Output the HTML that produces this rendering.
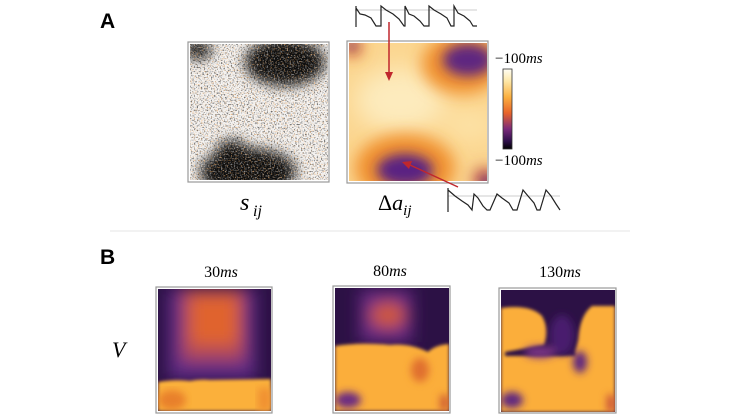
<!DOCTYPE html>
<html><head><meta charset="utf-8"><style>
html,body{margin:0;padding:0;background:#fff;}
svg{display:block}
text{font-family:"Liberation Serif",serif;}
</style></head><body>
<svg width="740" height="416" viewBox="0 0 740 416" xmlns="http://www.w3.org/2000/svg">
<defs>
<filter id="b4" x="-20%" y="-20%" width="140%" height="140%"><feGaussianBlur stdDeviation="4"/></filter>
<filter id="b6" x="-30%" y="-30%" width="160%" height="160%"><feGaussianBlur stdDeviation="6"/></filter>
<filter id="b8" x="-30%" y="-30%" width="160%" height="160%"><feGaussianBlur stdDeviation="8"/></filter>
<filter id="b12" x="-40%" y="-40%" width="180%" height="180%"><feGaussianBlur stdDeviation="12"/></filter>
<filter id="b2"><feGaussianBlur stdDeviation="1.5"/></filter>
<filter id="noise"><feTurbulence type="fractalNoise" baseFrequency="0.7" numOctaves="1" seed="3"/><feColorMatrix type="matrix" values="0 0 0 0 0  0 0 0 0 0  0 0 0 0 0  0 0 0 -4 2.0"/></filter>
<filter id="noiseW"><feTurbulence type="fractalNoise" baseFrequency="0.7" numOctaves="1" seed="9"/><feColorMatrix type="matrix" values="0 0 0 0 1  0 0 0 0 1  0 0 0 0 1  0 0 0 -4 2.0"/></filter>
<filter id="noiseO"><feTurbulence type="fractalNoise" baseFrequency="0.7" numOctaves="1" seed="17"/><feColorMatrix type="matrix" values="0 0 0 0 0.93  0 0 0 0 0.45  0 0 0 0 0.15  0 0 0 -4 1.75"/></filter>
<clipPath id="c1"><rect x="190" y="44" width="138" height="136"/></clipPath>
<clipPath id="c2"><rect x="349" y="43" width="138" height="138"/></clipPath>
<clipPath id="c3"><rect x="158" y="289" width="113" height="122"/></clipPath>
<clipPath id="c4"><rect x="335" y="288" width="114" height="123"/></clipPath>
<clipPath id="c5"><rect x="501" y="290" width="114" height="122"/></clipPath>
<linearGradient id="cb" x1="0" y1="0" x2="0" y2="1">
<stop offset="0" stop-color="#fffef5"/><stop offset="0.15" stop-color="#fde7a8"/><stop offset="0.35" stop-color="#fbb040"/><stop offset="0.55" stop-color="#e8642a"/><stop offset="0.75" stop-color="#7a2a7a"/><stop offset="0.9" stop-color="#2e0f4a"/><stop offset="1" stop-color="#000"/></linearGradient>
</defs>

<text x="100" y="28" font-weight="bold" font-size="21" style="font-family:'Liberation Sans',sans-serif">A</text>

<rect x="188" y="42" width="141" height="140" fill="#fff" stroke="#999" stroke-width="1.2"/>
<g clip-path="url(#c1)">
<rect x="190" y="44" width="138" height="136" fill="#f4f2f0"/>
<rect x="190" y="44" width="138" height="136" filter="url(#noise)" opacity="0.6"/>
<g filter="url(#b6)" fill="#111">
<ellipse cx="285" cy="62" rx="40" ry="24"/>
<ellipse cx="198" cy="50" rx="14" ry="9"/>
<ellipse cx="248" cy="172" rx="48" ry="24"/>
<ellipse cx="232" cy="152" rx="16" ry="12"/>
</g>
<rect x="190" y="44" width="138" height="136" filter="url(#noiseW)" opacity="0.5"/>
<rect x="190" y="44" width="138" height="136" filter="url(#noiseO)" opacity="0.8"/>
</g>
<text x="240" y="210" font-style="italic" font-size="24">s</text><text x="253" y="216" font-style="italic" font-size="16">ij</text>

<rect x="347" y="41" width="141" height="142" fill="#fff" stroke="#999" stroke-width="1.2"/>
<g clip-path="url(#c2)">
<rect x="349" y="43" width="138" height="138" fill="#fbd690"/>
<g filter="url(#b12)">
<ellipse cx="400" cy="100" rx="45" ry="32" fill="#fdebbd"/>
<ellipse cx="470" cy="125" rx="25" ry="15" fill="#fde3a8"/>
</g>
<g filter="url(#b8)">
<ellipse cx="462" cy="64" rx="40" ry="30" fill="#f0902e"/>
<ellipse cx="405" cy="168" rx="50" ry="34" fill="#f0902e"/>
<ellipse cx="352" cy="47" rx="10" ry="10" fill="#e0702e"/>
<ellipse cx="485" cy="180" rx="12" ry="12" fill="#c05040"/>
</g>
<g filter="url(#b6)">
<ellipse cx="468" cy="60" rx="25" ry="16" fill="#5e2580"/>
<ellipse cx="405" cy="170" rx="28" ry="16" fill="#5a2482"/>
<ellipse cx="352" cy="46" rx="5" ry="5" fill="#6a2a82"/>
<ellipse cx="487" cy="182" rx="6" ry="6" fill="#5a2482"/>
</g>
</g>
<rect x="503" y="69" width="9" height="80" fill="url(#cb)" stroke="#333" stroke-width="0.8"/>
<text x="495" y="63" font-size="15">−100<tspan font-style="italic">ms</tspan></text>
<text x="495" y="165" font-size="15">−100<tspan font-style="italic">ms</tspan></text>
<text x="378" y="210" font-size="22">Δ<tspan font-style="italic">a</tspan><tspan font-style="italic" font-size="15" dy="5">ij</tspan></text>

<line x1="355" y1="10" x2="477" y2="10" stroke="#ccc"/>
<path d="M356,6 V27 M356,8 L360,14 L365,15 L371,18 L376,26 L381,26 L381,6 L386,10 L393,14 L399,19 L404,26 L405,26 L405,6 L409,14 L414,16 L420,21 L424,26 L429,26 L429,6 L434,10 L441,14 L447,18 L451,26 L454,26 L454,6 L458,13 L464,16 L470,21 L473,26 L477,26" fill="none" stroke="#222" stroke-width="1.2"/>
<line x1="448" y1="196" x2="560" y2="196" stroke="#ccc"/>
<path d="M448,188 V212 M448,190 L455,196 L462,201 L468,205 L472,210 L474,194 L478,198 L483,206 L487,210 L490,210 L497,194 L502,198 L509,203 L513,210 L517,210 L523,190 L528,196 L534,203 L537,210 L540,210 L546,190 L551,196 L556,204 L560,210" fill="none" stroke="#222" stroke-width="1.2"/>
<line x1="389" y1="22" x2="389" y2="74" stroke="#c0272d" stroke-width="1.5"/>
<polygon points="385,72 393,72 389,81" fill="#c0272d"/>
<line x1="458" y1="187" x2="410" y2="165" stroke="#c0272d" stroke-width="1.5"/>
<polygon points="402,162 412,161 409,169" fill="#c0272d"/>

<line x1="110" y1="231" x2="630" y2="231" stroke="#e4e4e4" stroke-width="1"/>

<text x="100" y="264" font-weight="bold" font-size="21" style="font-family:'Liberation Sans',sans-serif">B</text>
<text x="221" y="277" font-size="16" text-anchor="middle">30<tspan font-style="italic">ms</tspan></text>
<text x="390" y="276" font-size="16" text-anchor="middle">80<tspan font-style="italic">ms</tspan></text>
<text x="560" y="277" font-size="16" text-anchor="middle">130<tspan font-style="italic">ms</tspan></text>
<text x="112" y="357" font-size="22" font-style="italic">V</text>

<rect x="156" y="287" width="116" height="126" fill="#fff" stroke="#999" stroke-width="1.2"/>
<g clip-path="url(#c3)">
<rect x="158" y="289" width="113" height="122" fill="#2c1145"/>
<g filter="url(#b8)">
<rect x="168" y="289" width="88" height="90" fill="#5e2a85"/>
<rect x="182" y="289" width="62" height="72" fill="#b04a5a"/>
<rect x="190" y="295" width="48" height="50" fill="#e0642e"/>
</g>
<g filter="url(#b2)">
<path d="M158,382 Q175,379 190,381 Q200,379 210,380 L271,379 L271,411 L158,411Z" fill="#fbb03a"/>
</g>
<ellipse cx="172" cy="400" rx="14" ry="10" fill="#e8802c" filter="url(#b4)"/>
<rect x="258" y="388" width="13" height="23" fill="#f09030" filter="url(#b4)"/>
</g>

<rect x="333" y="286" width="117" height="127" fill="#fff" stroke="#999" stroke-width="1.2"/>
<g clip-path="url(#c4)">
<rect x="335" y="288" width="114" height="123" fill="#2c1145"/>
<g filter="url(#b8)">
<rect x="360" y="290" width="52" height="52" fill="#6a2a85"/>
<ellipse cx="388" cy="315" rx="18" ry="13" fill="#d0583a"/>
</g>
<g filter="url(#b2)">
<path d="M335,346 Q360,342 390,345 Q410,343 428,352 Q435,345 449,344 L449,411 L335,411Z" fill="#fbae3a"/>
</g>
<g filter="url(#b4)">
<ellipse cx="420" cy="370" rx="9" ry="12" fill="#e0702e"/>
<ellipse cx="348" cy="400" rx="13" ry="8" fill="#6a2a82"/>
<rect x="440" y="395" width="9" height="16" fill="#d06030"/>
</g>
</g>

<rect x="499" y="288" width="117" height="125" fill="#fff" stroke="#999" stroke-width="1.2"/>
<g clip-path="url(#c5)">
<rect x="501" y="290" width="114" height="122" fill="#2c1145"/>
<g filter="url(#b2)">
<path d="M501,308 Q530,304 542,316 Q550,330 544,345 L505,352 L505,412 L501,412Z" fill="#fbae3a"/>
<path d="M615,306 L592,306 Q580,315 578,340 L575,352 L595,412 L615,412Z" fill="#fbae3a"/>
<rect x="501" y="356" width="114" height="56" fill="#fbae3a"/>
</g>
<g filter="url(#b4)">
<ellipse cx="562" cy="335" rx="12" ry="20" fill="#4a1d6e"/>
<ellipse cx="540" cy="352" rx="16" ry="6" fill="#7a3585"/>
<ellipse cx="580" cy="362" rx="7" ry="11" fill="#5e2580"/>
<ellipse cx="512" cy="400" rx="11" ry="8" fill="#5e2580"/>
<rect x="607" y="395" width="8" height="17" fill="#c84f38"/>
</g>
</g>
</svg>
</body></html>
